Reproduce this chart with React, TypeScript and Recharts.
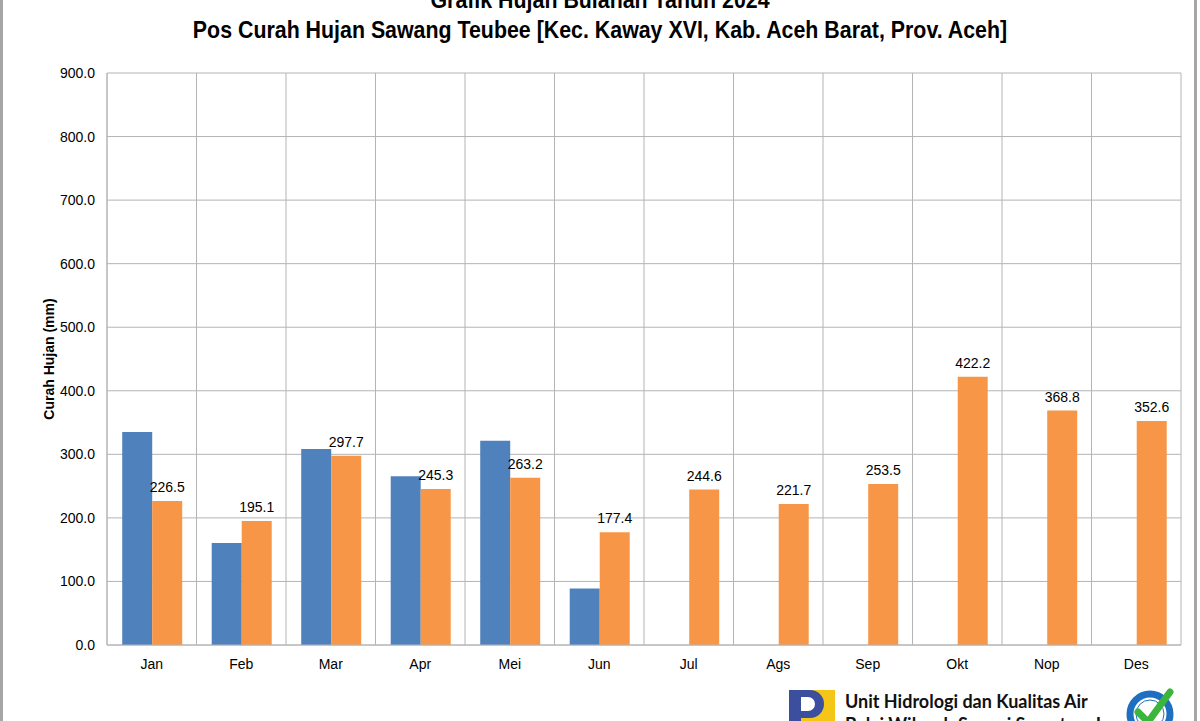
import { BarChart, Bar, XAxis, YAxis, CartesianGrid, LabelList } from "recharts";

const MONTHS = ["Jan", "Feb", "Mar", "Apr", "Mei", "Jun", "Jul", "Ags", "Sep", "Okt", "Nop", "Des"];
const BLUE_VALUES = [335.0, 160.5, 308.5, 265.5, 321.5, 89.0, null, null, null, null, null, null];
const ORANGE_VALUES = [226.5, 195.1, 297.7, 245.3, 263.2, 177.4, 244.6, 221.7, 253.5, 422.2, 368.8, 352.6];
const Y_TICKS = [0, 100, 200, 300, 400, 500, 600, 700, 800, 900];

const data = MONTHS.map((m, i) => ({ month: m, blue: BLUE_VALUES[i], orange: ORANGE_VALUES[i] }));

const GRID = "#b4b4b4";
const FONT = "'Liberation Sans', Arial, sans-serif";

export default function App() {
  return (
    <div style={{ position: "absolute", left: 0, top: 0, width: 1200, height: 721, overflow: "hidden", background: "#fff", fontFamily: FONT }}>
      <div style={{ position: "absolute", left: 0, top: -200, width: 1197, height: 1200, borderLeft: "3px solid #a6a6a6", borderRight: "3px solid #a6a6a6", boxSizing: "border-box" }} />
      <div style={{ position: "absolute", left: 0, width: 1200, top: -15, textAlign: "center", fontWeight: "bold", fontSize: 24, lineHeight: "30px", transform: "scaleX(0.89)", transformOrigin: "600px 0" }}>
        <div>Grafik Hujan Bulanan Tahun 2024</div>
        <div>Pos Curah Hujan Sawang Teubee [Kec. Kaway XVI, Kab. Aceh Barat, Prov. Aceh]</div>
      </div>
      <div style={{ position: "absolute", left: 0, top: 0 }}>
        <BarChart width={1200} height={721} data={data} margin={{ top: 73, right: 19, bottom: 46, left: 47 }} barCategoryGap="17%" barGap={0}>
          <CartesianGrid
            stroke={GRID}
            verticalCoordinatesGenerator={({ offset }: any) => MONTHS.map((_, i) => offset.left + (i * offset.width) / MONTHS.length).concat(offset.left + offset.width)}
          />
          <XAxis dataKey="month" tickLine={false} axisLine={{ stroke: GRID }} tick={{ fill: "#000", fontSize: 14, fontFamily: FONT }} tickMargin={8} height={30} />
          <YAxis
            domain={[0, 900]}
            ticks={Y_TICKS}
            width={60}
            tickLine={false}
            axisLine={{ stroke: GRID }}
            tickMargin={6}
            tick={{ fill: "#000", fontSize: 14, fontFamily: FONT }}
            tickFormatter={(v: number) => v.toFixed(1)}
            label={{ value: "Curah Hujan (mm)", angle: -90, position: "insideLeft", dx: -3, style: { textAnchor: "middle", fontWeight: "bold", fontSize: 14, fill: "#000", fontFamily: FONT } }}
          />
          <Bar dataKey="blue" fill="#4f81bd" isAnimationActive={false} />
          <Bar dataKey="orange" fill="#f79646" isAnimationActive={false}>
            <LabelList dataKey="orange" position="top" offset={9} fill="#000" fontSize={14} fontFamily={FONT} formatter={(v: any) => Number(v).toFixed(1)} />
          </Bar>
        </BarChart>
      </div>
      <svg style={{ position: "absolute", left: 0, top: 0 }} width={1200} height={721}>
        <rect x={789} y={690} width={46} height={40} fill="#f5c518" />
        <rect x={789} y={690} width={12} height={40} fill="#3c4f9e" />
        <path d="M801 690 L810 690 A14 14 0 0 1 810 718 L801 718 Z" fill="#3c4f9e" />
        <path d="M801 697 L808 697 A7 7 0 0 1 808 711 L801 711 Z" fill="#fff" />
        <text x={845} y={708} fontFamily="Lato, 'Open Sans', sans-serif" fontWeight="bold" fontSize={18} fill="#111">Unit Hidrologi dan Kualitas Air</text>
        <text x={845} y={731} fontFamily="Lato, 'Open Sans', sans-serif" fontWeight="bold" fontSize={18} fill="#111">Balai Wilayah Sungai Sumatera I</text>
        <circle cx={1150} cy={714} r={20} fill="none" stroke="#1f6fc0" strokeWidth={7} />
        <circle cx={1150} cy={714} r={14} fill="#fff" stroke="#1f6fc0" strokeWidth={1} />
        <path d="M1138 712 L1148 722 L1170 692" fill="none" stroke="#3bb53b" strokeWidth={7} strokeLinecap="round" />
      </svg>
    </div>
  );
}
